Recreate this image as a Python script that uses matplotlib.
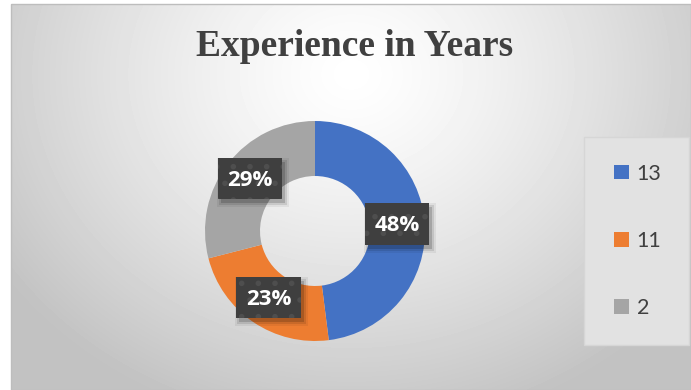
import numpy as np
import matplotlib.pyplot as plt
from matplotlib.patches import Patch, Rectangle
from matplotlib.path import Path
from matplotlib.transforms import IdentityTransform

# data
categories = ['13', '11', '2']
shares = [48, 23, 29]
colors = ['#4472C4', '#ED7D31', '#A5A5A5']
title = 'Experience in Years'

W, H = 691, 390
fig = plt.figure(figsize=(W / 100, H / 100), dpi=100, facecolor='white')

# chart area background: soft radial gradient like the Excel style
bg = fig.add_axes([11 / W, 0, (W - 11) / W, (H - 4) / H])
yy, xx = np.mgrid[0:386, 0:680]
r = np.sqrt(((xx - 340) / 420.0) ** 2 + ((yy - 70) / 360.0) ** 2)
shade = 1.0 - 0.24 * np.clip(r, 0, 1) ** 1.3
bg.imshow(shade, cmap='gray', vmin=0, vmax=1, aspect='auto',
          extent=[0, 680, 386, 0], interpolation='bilinear')
bg.set_xlim(0, 680)
bg.set_ylim(386, 0)
bg.axis('off')
fig.add_artist(Rectangle((11 / W, 0), (W - 11) / W, (H - 4) / H,
                         transform=fig.transFigure, fill=False,
                         edgecolor='#bdbdbd', lw=1.0))

fig.text(355 / W, 1 - 47 / H, title, ha='center', va='center',
         fontsize=27, fontweight='bold', family='Liberation Serif',
         color='#404040')

# donut
cx, cy, rad = 315, 231, 110
ax = fig.add_axes([(cx - rad) / W, (H - cy - rad) / H, 2 * rad / W, 2 * rad / H])
wedges, texts, autotexts = ax.pie(
    shares, colors=colors, startangle=90, counterclock=False,
    radius=1.0, wedgeprops=dict(width=0.5, linewidth=0),
    autopct='%d%%', pctdistance=0.75)
ax.set_xlim(-1, 1)
ax.set_ylim(-1, 1)
ax.set_aspect('equal')


def label_box(x0, y0, width, height, mutation_size):
    # wider/taller box than the text, like Excel data-label callouts
    w = width + 0.85 * mutation_size
    h = 1.85 * mutation_size
    xc = x0 + width / 2
    yc = y0 + height / 2 + 0.08 * mutation_size
    x1, y1 = xc - w / 2, yc - h / 2
    return Path([(x1, y1), (x1 + w, y1), (x1 + w, y1 + h), (x1, y1 + h), (x1, y1)],
                closed=True)


plt.rcParams['hatch.linewidth'] = 1.6
for t in autotexts:
    t.set_color('white')
    t.set(fontsize=16, fontweight='bold', family=['Open Sans', 'DejaVu Sans'])
    t.set_zorder(5)
    t.set_bbox(dict(boxstyle=label_box, facecolor='#3f3f3f',
                    edgecolor='#4e4e4e', linewidth=0, hatch='.'))

# soft drop shadows under the label boxes
fig.canvas.draw()
for t in autotexts:
    e = t.get_bbox_patch().get_window_extent()
    for grow, a in [(4, 0.06), (2, 0.1), (0, 0.16)]:
        ax.add_patch(Rectangle((e.x0 + 3 - grow, e.y0 - 4 - grow),
                               e.width + 2 * grow, e.height + 2 * grow,
                               transform=IdentityTransform(), facecolor='black',
                               alpha=a, linewidth=0, zorder=4, clip_on=False))

# legend box
fig.add_artist(Rectangle((584 / W, 1 - 345 / H), 105 / W, 208 / H,
                         transform=fig.transFigure, facecolor='#e2e2e2',
                         edgecolor='#d6d6d6', lw=1.0))
handles = [Patch(facecolor=c, edgecolor='none') for c in colors]
fig.legend(handles, categories, loc='center', bbox_to_anchor=(638 / W, 1 - 241 / H),
           frameon=False, labelcolor='#404040',
           prop={'family': ['Lato', 'DejaVu Sans'], 'size': 15.5},
           handlelength=0.68, handleheight=0.68, handletextpad=0.35,
           labelspacing=2.2)

fig.savefig('out.png', dpi=100, facecolor='white')
